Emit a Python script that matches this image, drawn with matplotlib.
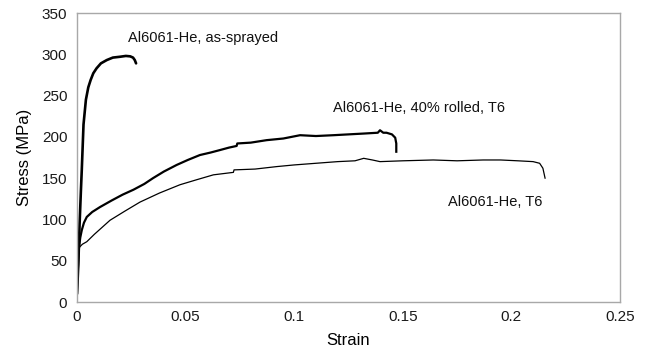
import numpy as np
import matplotlib
matplotlib.use('Agg')
import matplotlib.pyplot as plt

plt.rcParams['font.family'] = ['Liberation Sans', 'DejaVu Sans']

# curves (strain, stress in MPa)
sprayed_strain = [0.0, 0.0006, 0.0012, 0.0018, 0.0022, 0.003, 0.0041, 0.0052, 0.0063,
                  0.0075, 0.009, 0.011, 0.0137, 0.0165, 0.0198, 0.0225, 0.0245, 0.0258, 0.0266, 0.0272]
sprayed_stress = [10, 45, 95, 135, 160, 215, 245, 260, 269,
                  277, 283, 289, 293, 296, 297, 298, 297.5, 296, 293, 289]

rolled_strain = [0.0, 0.0004, 0.0008, 0.0015, 0.0022, 0.0032, 0.0045, 0.007, 0.0106, 0.016,
                 0.021, 0.026, 0.031, 0.035, 0.040, 0.0459, 0.051, 0.0566, 0.0615, 0.0658,
                 0.070, 0.0735, 0.0738, 0.080, 0.0873, 0.095, 0.1027, 0.110, 0.118, 0.125,
                 0.132, 0.1385, 0.1395, 0.141, 0.1425, 0.145, 0.1465, 0.147, 0.147]
rolled_stress = [10, 40, 63, 78, 87, 96, 103, 109, 115, 123,
                 130, 136, 143, 150, 158, 166, 172, 178, 181, 184,
                 187, 189, 192, 193, 196, 198, 202, 201, 202, 203,
                 204, 205, 208, 205, 205, 203, 199, 192, 182]

t6_strain = [0.0, 0.0003, 0.0006, 0.0025, 0.0045, 0.008, 0.0152, 0.022, 0.029, 0.038,
             0.0474, 0.055, 0.0628, 0.072, 0.0723, 0.082, 0.092, 0.100, 0.110, 0.120,
             0.128, 0.132, 0.136, 0.1395, 0.150, 0.164, 0.175, 0.187, 0.195, 0.203,
             0.21, 0.213, 0.2145, 0.2155]
t6_stress = [10, 40, 65, 70, 73, 82, 99, 110, 121, 132,
             142, 148, 154, 157, 160, 161, 164, 166, 168, 170,
             171, 174, 172, 170, 171, 172, 171, 172, 172, 171,
             170, 168, 162, 150]

labels = ['Al6061-He, as-sprayed', 'Al6061-He, 40% rolled, T6', 'Al6061-He, T6']
label_pos = [(0.0235, 320), (0.118, 235), (0.171, 121)]

fig = plt.figure(figsize=(6.49, 3.58), dpi=100)
ax = fig.add_axes([77 / 649, 1 - 302 / 358, (620 - 77) / 649, (302 - 13) / 358])

ax.plot(sprayed_strain, sprayed_stress, color='black', lw=1.9, solid_capstyle='round')
ax.plot(rolled_strain, rolled_stress, color='black', lw=1.6, solid_joinstyle='round')
ax.plot(t6_strain, t6_stress, color='black', lw=0.9)

for txt, (x, y) in zip(labels, label_pos):
    ax.text(x, y, txt, fontsize=10.5, ha='left', va='center', color='#111111')

ax.set_xlim(0, 0.25)
ax.set_ylim(0, 350)
ax.set_xticks([0, 0.05, 0.1, 0.15, 0.2, 0.25])
ax.set_xticklabels(['0', '0.05', '0.1', '0.15', '0.2', '0.25'])
ax.set_yticks(range(0, 351, 50))
ax.tick_params(length=0, labelsize=11, colors='#1a1a1a')
ax.tick_params(axis='y', pad=7)
ax.tick_params(axis='x', pad=6)
for s in ax.spines.values():
    s.set_color('#a8a8a8')
    s.set_linewidth(1.0)

ax.set_xlabel('Strain', fontsize=12, labelpad=6)
ax.set_ylabel('Stress (MPa)', fontsize=12, labelpad=7)

fig.savefig('out.png', dpi=100)
